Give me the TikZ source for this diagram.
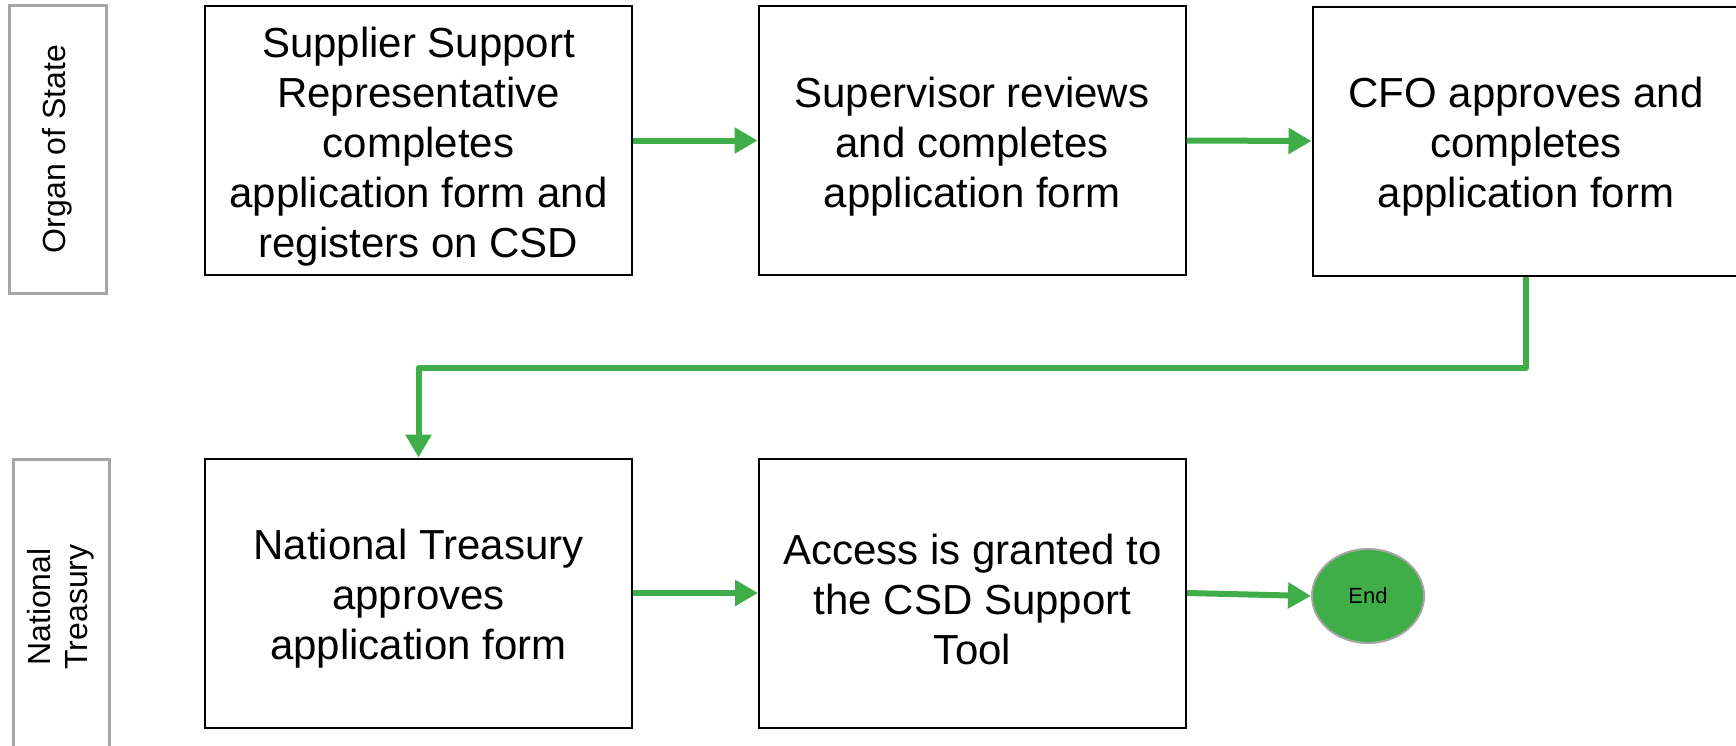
\documentclass[tikz,border=0pt]{standalone}
\usepackage{fontspec}
\setmainfont{Liberation Sans}
\usetikzlibrary{arrows.meta,shapes.geometric}
\definecolor{flowgreen}{HTML}{3FAE49}
\definecolor{lanegray}{HTML}{A6A6A6}
\tikzset{
  stepbox/.style={draw=black, line width=2pt, minimum width=427pt, minimum height=269pt,
    inner sep=0pt},
  boxtext/.style={align=center, inner sep=0pt, yshift=-6pt, font=\fontsize{42}{50}\selectfont},
  lanebox/.style={draw=lanegray, line width=3pt, inner sep=0pt},
  lanetext/.style={rotate=90, align=center, font=\fontsize{32}{37}\selectfont},
  flow/.style={draw=flowgreen, line width=6pt, line join=round,
    -{Triangle[length=23pt,width=25pt]}},
  endnode/.style={ellipse, draw=lanegray, line width=2pt, fill=flowgreen,
    minimum width=112pt, minimum height=94pt, inner sep=0pt, font=\fontsize{22}{26}\selectfont}
}
\begin{document}
\begin{tikzpicture}[x=1pt,y=-1pt]
\useasboundingbox (0,0) rectangle (1736,745);
\fill[white] (0,0) rectangle (1736,745);
% lanes
\node[lanebox, minimum width=97pt, minimum height=288pt] (lane1) at (57.5,149) {};
\node[lanetext] (lane1t) at (lane1.center) {Organ of State};
\node[lanebox, minimum width=96pt, minimum height=296pt] (lane2) at (61,607) {};
\node[lanetext] (lane2t) at (lane2.center) {National\\Treasury};
% steps
\node[stepbox, label={[boxtext]center:{Supplier Support\\Representative\\completes\\application form and\\registers on CSD}}] (b1) at (418.5,140.5) {};
\node[stepbox, label={[boxtext]center:{Supervisor reviews\\and completes\\application form}}] (b2) at (972,140.5) {};
\node[stepbox, label={[boxtext]center:{CFO approves and\\completes\\application form}}] (b3) at (1526,141) {};
\node[stepbox, label={[boxtext]center:{National Treasury\\approves\\application form}}] (b4) at (418.5,593) {};
\node[stepbox, label={[boxtext]center:{Access is granted to\\the CSD Support\\Tool}}] (b5) at (972.5,593) {};
\node[endnode] (e) at (1368,596) {End};
% connectors
\draw[flow] (b1.east) -- (b2.west);
\draw[flow] (b2.east) -- (b3.west);
\coordinate (turn) at (1526,368);
\draw[flow] (b3.south) -- (turn) -| (b4.north);
\draw[flow] (b4.east) -- (b5.west);
\draw[flow] (b5.east) -- (e.west);
\end{tikzpicture}
\end{document}
